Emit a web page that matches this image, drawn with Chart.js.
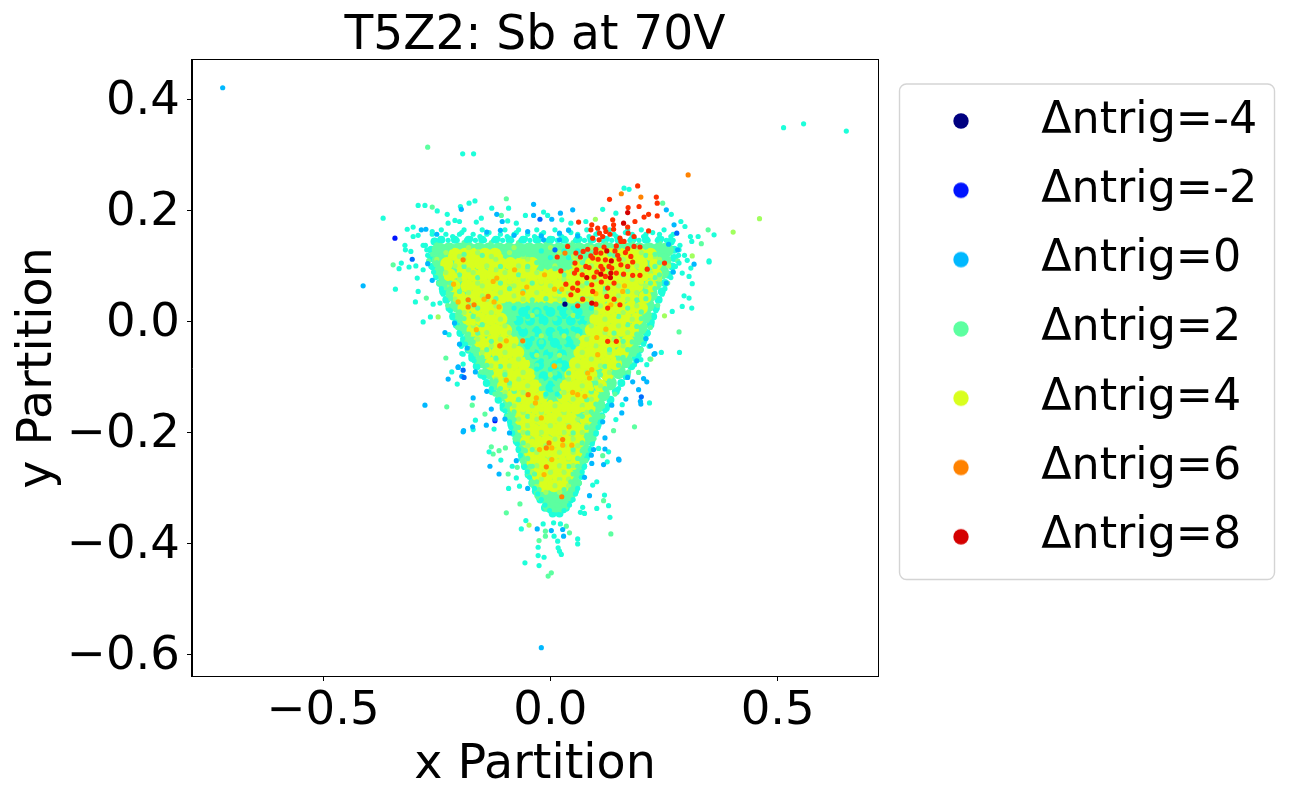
<!DOCTYPE html>
<html><head><meta charset="utf-8">
<script src="https://cdn.jsdelivr.net/npm/chart.js@4"></script>
<style>html,body{margin:0;padding:0;background:#fff}#w{width:1300px;height:800px;position:relative}</style>
</head><body><div id="w"><canvas id="c" width="1300" height="800"></canvas></div>
<script>
const chartTitle='T5Z2: Sb at 70V';
const xLabel='x Partition', yLabel='y Partition';
const xTicks=[-0.5,0,0.5];
const yTicks=[-0.6,-0.4,-0.2,0,0.2,0.4];
const legendValues=[-4,-2,0,2,4,6,8];

// Dense interior: reference has far too many overlapping dots to read one by one,
// so it is estimated as rows [y,[x...]] of broader marks.
const denseGreen=[
[.13,[-.245,-.223,-.201,-.179,-.157,-.135,-.113,-.091,-.069,-.047,-.025,-.003,.019,.041,.063,.085,.107,.129,.151,.173,.195,.217,.239,.255]],
[.11,[-.245,-.234,-.212,-.19,-.168,-.146,-.124,-.102,-.08,-.058,-.036,-.014,.008,.03,.052,.074,.096,.118,.14,.162,.184,.206,.228,.25]],
[.09,[-.24,-.22,-.198,-.176,-.154,-.132,-.11,-.088,-.066,-.044,-.022,0,.022,.044,.066,.088,.11,.132,.154,.176,.198,.22,.245]],
[.07,[-.23,-.21,-.188,-.166,-.144,-.122,-.1,-.078,-.056,-.034,-.012,.01,.032,.054,.076,.098,.12,.142,.164,.186,.208,.23]],
[.05,[-.215,-.197,-.175,-.153,-.131,-.109,-.087,-.065,-.043,-.021,.001,.023,.045,.067,.089,.111,.133,.155,.177,.199,.22]],
[.03,[-.205,-.186,-.164,-.142,-.12,-.098,-.076,-.054,-.032,-.01,.012,.034,.056,.078,.1,.122,.144,.166,.188,.213]],
[.01,[-.195,-.175,-.153,-.131,-.109,-.087,-.065,-.043,-.021,.001,.023,.045,.067,.089,.111,.133,.155,.177,.208]],
[-.01,[-.185,-.164,-.142,-.12,-.098,-.076,-.054,-.032,-.01,.012,.034,.056,.078,.1,.122,.144,.166,.198]],
[-.03,[-.175,-.153,-.131,-.109,-.087,-.065,-.043,-.021,.001,.023,.045,.067,.089,.111,.133,.155,.19]],
[-.05,[-.16,-.142,-.12,-.098,-.076,-.054,-.032,-.01,.012,.034,.056,.078,.1,.122,.144,.166,.18]],
[-.07,[-.15,-.131,-.109,-.087,-.065,-.043,-.021,.001,.023,.045,.067,.089,.111,.133,.165]],
[-.09,[-.135,-.12,-.098,-.076,-.054,-.032,-.01,.012,.034,.056,.078,.1,.122,.15]],
[-.11,[-.12,-.1,-.078,-.056,-.034,-.012,.01,.032,.054,.076,.098,.13]],
[-.13,[-.105,-.087,-.065,-.043,-.021,.001,.023,.045,.067,.089,.115]],
[-.15,[-.09,-.07,-.048,-.026,-.004,.018,.04,.062,.084,.105]],
[-.17,[-.08,-.059,-.037,-.015,.007,.029,.051,.073,.095]],
[-.19,[-.07,-.048,-.026,-.004,.018,.04,.062,.09]],
[-.21,[-.065,-.043,-.021,.001,.023,.045,.08]],
[-.23,[-.055,-.033,-.011,.011,.033,.055,.07]],
[-.25,[-.05,-.028,-.006,.016,.038,.06]],
[-.27,[-.04,-.018,.004,.026,.055]],
[-.29,[-.03,-.008,.014,.036,.05]],
[-.31,[-.02,.002,.024,.04]],
[-.33,[-.002,.012,.025]]
];
const denseYellow=[
[.122,[-.21,-.188,-.166,-.144,-.122,.11,.132,.154,.176,.198,.22]],
[.105,[-.228,-.198,-.176,-.154,-.132,-.11,-.088,-.066,-.04,.06,.09,.112,.134,.156,.178,.2,.232]],
[.085,[-.222,-.193,-.171,-.149,-.127,-.105,-.083,-.061,-.039,-.017,.005,.028,.05,.072,.094,.116,.138,.16,.182,.204,.232]],
[.065,[-.212,-.183,-.161,-.139,-.117,-.095,-.073,-.051,-.029,-.007,.015,.037,.059,.081,.103,.125,.147,.169,.191,.22]],
[.045,[-.2,-.173,-.151,-.129,-.107,-.085,-.063,-.041,-.019,.003,.025,.047,.069,.091,.113,.135,.157,.179,.208]],
[.025,[-.19,-.163,-.141,-.119,.11,.132,.154,.176,.2]],
[.005,[-.18,-.153,-.131,-.109,.1,.122,.144,.166,.19]],
[-.015,[-.17,-.143,-.121,-.099,.09,.112,.134,.156,.18]],
[-.035,[-.155,-.128,-.106,-.084,.075,.097,.119,.141,.17]],
[-.055,[-.143,-.116,-.094,-.072,.065,.087,.109,.131,.158]],
[-.075,[-.13,-.103,-.081,-.059,.055,.077,.099,.121,.143]],
[-.095,[-.115,-.091,-.069,-.047,.045,.067,.089,.125]],
[-.115,[-.103,-.078,-.056,-.034,.035,.057,.079,.11]],
[-.135,[-.088,-.063,-.041,-.019,.028,.05,.072,.095]],
[-.155,[-.075,-.053,-.031,-.009,.013,.035,.057,.085]],
[-.175,[-.065,-.043,-.021,.001,.023,.045,.078]],
[-.195,[-.058,-.036,-.014,.008,.03,.052,.07]],
[-.215,[-.052,-.03,-.008,.014,.036,.062]],
[-.235,[-.044,-.022,0,.022,.044,.056]],
[-.255,[-.038,-.016,.006,.028,.05]],
[-.275,[-.028,-.006,.016,.038]],
[-.295,[-.014,.008,.028]]
];
const denseCyan=[
[.018,[-.06,-.03,0,.03,.06]],
[.002,[-.07,-.045,-.015,.015,.045,.07]],
[-.018,[-.06,-.03,0,.03,.06]],
[-.038,[-.05,-.02,.01,.04]],
[-.058,[-.035,-.005,.025]],
[-.078,[-.025,.01,.03]],
[-.098,[-.015,.015]],
[-.118,[0]]
];
const rimCyan=[[-.255,.145],[-.262,.13],[-.262,.115],[-.258,.1],[-.25,.085],[-.243,.07],[-.236,.055],[-.229,.04],[-.222,.025],[-.214,.01],[-.206,-.005],[-.198,-.02],[-.19,-.035],[-.18,-.05],[-.172,-.065],[-.162,-.08],[-.152,-.095],[-.14,-.11],[-.128,-.125],[-.114,-.14],[-.103,-.155],[-.094,-.17],[-.086,-.185],[-.08,-.2],[-.074,-.215],[-.068,-.23],[-.062,-.245],[-.056,-.26],[-.048,-.275],[-.04,-.29],[-.032,-.305],[-.022,-.32],[-.012,-.335],[.005,-.345],[.02,-.345],
[.265,.145],[.272,.13],[.272,.115],[.268,.1],[.26,.085],[.252,.07],[.245,.055],[.238,.04],[.232,.025],[.226,.01],[.22,-.005],[.212,-.02],[.204,-.035],[.196,-.05],[.188,-.065],[.178,-.08],[.168,-.095],[.156,-.11],[.144,-.125],[.132,-.14],[.122,-.155],[.112,-.17],[.104,-.185],[.098,-.2],[.09,-.215],[.084,-.23],[.078,-.245],[.072,-.26],[.066,-.275],[.06,-.29],[.054,-.305],[.044,-.32],[.034,-.335],
[-.24,.148],[-.21,.148],[-.18,.148],[-.15,.148],[-.12,.148],[-.09,.148],[-.06,.148],[-.03,.148],[0,.148],[.03,.148],[.06,.148],[.09,.148],[.12,.148],[.15,.148],[.18,.148],[.21,.148],[.24,.148]];

// Individually readable dots and estimated speckle, per trigger value.
const speck3=[
[.125,[-.23,-.16,-.09,.02,.11,.2]],[.113,[-.25,-.19,-.12,-.05,.06,.16,.24]],[.101,[-.21,-.14,-.07,.01,.09,.19,.26]],
[.089,[-.23,-.17,-.1,-.03,.05,.13,.22]],[.077,[-.2,-.12,-.06,.03,.1,.18,.24]],[.065,[-.22,-.15,-.08,0,.07,.15,.21]],
[.053,[-.18,-.11,-.03,.04,.12,.19]],[.041,[-.21,-.14,-.06,.02,.09,.17]],[.029,[-.17,-.12,.11,.19]],[.017,[-.19,-.13,.1,.16]],
[.005,[-.16,-.11,.12,.18]],[-.007,[-.17,-.1,.09,.15]],[-.019,[-.14,-.09,.12,.17]],[-.031,[-.16,-.11,.08,.14]],
[-.043,[-.13,-.08,.1,.16]],[-.055,[-.15,-.1,.07,.13]],[-.067,[-.12,-.07,.09,.15]],[-.079,[-.13,-.09,.06,.11]],
[-.091,[-.1,-.06,.08,.13]],[-.103,[-.12,-.07,.04,.1]],[-.115,[-.09,-.05,.07,.11]],[-.127,[-.1,-.06,.03,.09]],
[-.139,[-.07,-.03,.05,.09]],[-.151,[-.08,-.04,.01,.07]],[-.163,[-.06,-.02,.03,.08]],[-.175,[-.07,-.03,.02,.06]],
[-.187,[-.05,0,.04,.08]],[-.199,[-.06,-.02,.03,.07]],[-.211,[-.04,.01,.05]],[-.223,[-.05,-.01,.03,.06]],
[-.235,[-.03,.02,.05]],[-.247,[-.05,0,.04]],[-.259,[-.03,.02,.05]],[-.271,[-.04,0,.03]],[-.283,[-.02,.02,.04]],[-.295,[-.03,.01,.04]],[-.307,[-.01,.02]],
[.118,[-.2,-.13,-.06,.05,.15,.23]],[.094,[-.18,-.12,-.05,.07,.17,.21]],[.07,[-.16,-.09,-.02,.06,.13,.2]],[.047,[-.15,-.08,.01,.08,.15]],
[.012,[-.04,.05]],[-.025,[-.02,.03,.06]],[-.06,[-.03,.02]],[-.095,[.0]],
[.134,[-.18,-.08,.0,.09,.19]]
];
const speck2=[
[.143,[-.25,-.19,-.13,-.07,-.01,.05,.12,.18,.24]],[.135,[-.22,-.16,-.1,-.04,.02,.08,.15,.21,.26]],[.122,[-.26,-.19,-.06,.04,.13,.23]],
[.107,[-.25,-.03,-.01,.02,.05,.07,.24]],[.096,[-.24,-.02,.01,.03,.25]],[.08,[-.24,-.16,.23]],[.06,[-.22,-.09,.12,.23]],
[.042,[-.22,-.12,-.01,.07,.21]],[.032,[-.09,-.07,-.04,-.02,.01,.03,.06,.08,.1]],[.018,[-.2,-.09,-.03,.04,.09,.2]],
[.006,[-.19,-.08,-.05,.01,.06,.08,.2]],[-.008,[-.19,-.06,-.02,.03,.07,.19]],[-.022,[-.18,-.08,-.04,.01,.05,.19]],
[-.036,[-.17,-.06,-.02,.03,.06,.18]],[-.05,[-.16,-.04,0,.04,.17]],[-.064,[-.15,-.05,-.01,.03,.16]],[-.078,[-.14,-.03,.02,.15]],
[-.092,[-.13,-.03,.01,.04,.14]],[-.106,[-.12,-.02,.02,.13]],[-.12,[-.11,-.02,.01,.12]],[-.134,[-.1,-.01,.02,.11]],
[-.148,[-.09,.1]],[-.162,[-.08,.09]],[-.176,[-.08,.09]],[-.19,[-.07,.08]],[-.204,[-.07,.08]],[-.218,[-.06,.07]],
[-.232,[-.055,.07]],[-.246,[-.05,.06]],[-.26,[-.045,.06]],[-.274,[-.035,.05]],[-.288,[-.03,.045]],[-.302,[-.025,.03,.045]],[-.316,[-.015,.01,.035]],[-.33,[-.005,.015,.03]],
[.12,[-.24,-.15,-.07,.03,.14,.21]],[.1,[-.19,-.11,-.05,.04,.17,.23]],[.085,[-.2,-.07,.03,.16,.24]],
[.07,[-.22,-.11,-.04,.08,.22]],[.055,[-.2,-.06,.02,.17,.21]],[.04,[-.18,-.04,.03,.19]],[.025,[-.16,.17]],
[.01,[-.17,.15]],[-.005,[-.15,.17]],[-.02,[-.16,.14]],[-.035,[-.13,.16]],[-.05,[-.14,.13]],
[-.065,[-.12,.15]],[-.08,[-.11,.12]],[-.095,[-.1,.11]],[-.11,[-.09,.1]],[-.125,[-.08,.09]],
[-.14,[-.07,.08]],[-.17,[-.05,.07]],[-.2,[-.05,.05]],
[-.23,[-.04,.05]],[-.26,[-.04,.04]],
[.11,[-.268,.28]],[.07,[-.246,.258]],[.03,[-.226,.236]],[-.01,[-.204,.22]],[-.05,[-.18,.2]],[-.09,[-.153,.172]],[-.13,[-.122,.142]],[-.17,[-.095,.115]],[-.21,[-.078,.096]],[-.25,[-.062,.078]],[-.29,[-.04,.064]]
];
const speck4=[
[.118,[-.22,-.17,-.11,.12,.18,.22]],[.095,[-.2,-.13,-.08,.08,.15,.21]],[.072,[-.18,-.09,-.02,.06,.13,.2]],[.05,[-.16,-.07,.01,.08,.16]],
[.012,[-.15,.14]],[-.025,[-.12,.1]],[-.06,[-.11,.11]],[-.1,[-.08,.09]],[-.145,[-.05,0,.06]],[-.17,[-.04,.01,.05]],
[-.2,[-.03,.02]],[-.23,[-.02,.03]],[-.26,[-.01,.03]],[-.29,[0,.02]],
[.108,[-.19,-.15,-.1,.14,.2]],[.083,[-.21,-.15,-.06,.02,.1,.17,.22]],[.06,[-.19,-.12,-.04,.04,.11,.18]],[.035,[-.19,-.15,.13,.18]],
[-.002,[-.17,-.13,.11,.16]],[-.04,[-.14,-.09,.09,.15]],[-.08,[-.12,-.08,.08,.13]],[-.12,[-.08,-.04,.06,.09]],
[-.158,[-.06,-.02,.03,.07]],[-.185,[-.04,.02,.06]],[-.215,[-.04,0,.04]],[-.245,[-.03,.01,.04]],[-.275,[-.02,.02]]
];
const speck1=[
[.158,[-.26,-.23,-.2,-.17,-.14,-.11,-.08,-.05,-.02,.02,.06,.1,.14,.18,.21,.24,.27]],
[.166,[-.24,-.19,-.15,-.1,-.07,-.03,.01,.04,.08,.13,.17,.2,.25]],
[.147,[-.255,-.245,-.225,-.205,-.185,-.165,-.145,-.125,-.105,-.085,-.065,-.045,-.025,-.005,.015,.035,.055,.075,.095,.115,.135,.155,.175,.195,.215,.235,.255,.27]],
[.15,[-.24,-.175,-.115,-.055,.005,.065,.125,.185,.245]],
[.154,[-.215,-.155,-.095,-.035,.025,.085,.145,.205,.265]],
[.161,[-.195,-.135,-.075,-.015,.045,.105,.165,.225]],
[.138,[-.275,-.28,.285]],[.13,[-.272,.283]],[.12,[-.27,.282,.295]],[.1,[-.263,.275]],[.09,[-.257,.27]],[.08,[-.252,.265]],
[.06,[-.24,.252]],[.05,[-.236,.246]],[.04,[-.23,.24]],[.02,[-.22,.232]],[.01,[-.215,.228]],[0,[-.21,.224]],
[-.02,[-.2,.215]],[-.03,[-.193,.21]],[-.04,[-.187,.205]],[-.06,[-.175,.195]],[-.07,[-.168,.188]],[-.08,[-.16,.18]],
[-.1,[-.146,.165]],[-.11,[-.138,.158]],[-.12,[-.13,.15]],[-.14,[-.113,.134]],[-.15,[-.106,.127]],[-.16,[-.1,.12]],
[-.18,[-.09,.11]],[-.19,[-.087,.105]],[-.2,[-.083,.1]],[-.22,[-.073,.092]],[-.23,[-.07,.088]],[-.24,[-.066,.083]],
[-.26,[-.056,.075]],[-.27,[-.051,.07]],[-.28,[-.046,.068]],[-.3,[-.035,.06]],[-.31,[-.028,.055]],[-.32,[-.02,.05]],[-.33,[-.012,.042]],[-.34,[-.002,.03]],
[.01,[-.05,-.02,.03,.06]],[-.03,[-.04,0,.04]],[-.07,[-.02,.02]],[-.11,[0]],[.128,[-.02,.03,.06]],[.116,[0,.04]],
[.025,[-.08,-.05,-.01,.02,.05,.09]],[-.012,[-.07,-.03,.02,.05]],[-.045,[-.05,-.02,.02,.05]],[-.085,[-.03,0,.03]],[-.13,[-.01,.015]]
];
const trig1=[[-.291,.21],[-.276,.21],[-.249,.2],[-.198,.208],[-.179,.214],[-.166,.218],[-.129,.205],[-.092,.205],[-.368,.187],[-.227,.194],[-.225,.178],[-.21,.183],[-.2,.181],[-.163,.18],[-.152,.187],[-.094,.182],[-.075,.178],[-.055,.192],[-.015,.198],[-.006,.192],[.025,.184],[.045,.178],[.078,.181],[.115,.203],[.144,.196],[.162,.241],[.173,.239],[.266,.194],[.287,.181],[.296,.172],[.308,.154],[.325,.154],[.36,.157],[.311,.145],[.349,.11],[.301,.111],[.283,.106],[.309,.097],[.29,.088],[.305,.082],[.312,.069],[.294,.047],[.305,.043],[.29,.028],[.311,.025],[.268,.019],[.244,-.055],[.284,-.055],[.217,-.044],[-.315,.167],[-.302,.171],[-.26,.163],[-.302,.154],[-.291,.156],[-.32,.138],[-.319,.13],[-.307,.127],[-.328,.106],[-.333,.096],[-.311,.099],[-.296,.101],[-.28,.094],[-.293,.079],[-.341,.059],[-.291,.055],[-.297,.036],[-.258,.032],[-.243,.034],[-.264,.009],[-.28,0],[-.223,-.023],[-.196,-.044],[-.192,-.058],[.513,.35],[.557,.357],[.651,.344],[-.193,.303],[-.169,.303],[.349,.108],[-.217,-.09],[-.205,-.112],[-.192,-.076],[-.195,-.057],[-.165,-.177],[-.17,-.194],[-.124,-.193],[-.135,-.234],[-.109,-.249],[-.084,-.26],[-.075,-.281],[-.092,-.3],[-.068,-.296],[-.054,-.358],[-.064,-.373],[-.027,-.406],[-.027,-.421],[-.014,-.424],[-.056,-.434],[-.025,-.439],[.017,-.407],[.02,-.413],[.024,-.419],[.06,-.391],[.06,-.4],[.008,-.386],[.016,-.395],[-.016,-.364],[.007,-.362],[.022,-.364],[.131,-.352],[.102,-.336],[.128,-.331],[.119,-.312],[.102,-.288],[.093,-.294],[.071,-.334],[.066,-.343],[.075,-.345],[.125,-.252],[.128,-.234],[.106,-.228],[.144,-.176],[.158,-.149],[.218,-.146],[.199,-.068],[.185,-.077],[.212,-.077]];
const trig0=[[-.721,.422],[-.412,.065],[-.02,-.587],[-.276,-.15],[-.191,-.196],[-.171,-.189],[.151,-.249],[-.196,.203],[-.037,.212],[-.118,.194],[-.106,.181],[-.037,.192],[.003,.185],[.022,.196],[.049,.202],[.255,.202],[.272,.175],[.316,.104],[.228,-.058],[-.284,.166],[-.274,.167],[-.232,-.019],[-.211,-.002],[-.183,-.047],[-.203,-.082],[-.225,-.103],[-.203,-.081],[-.195,-.098],[-.192,-.198],[-.17,-.137],[-.141,-.186],[-.13,-.157],[-.133,-.26],[-.113,-.274],[-.029,-.373],[.029,-.386],[.002,-.376],[.027,-.374],[.086,-.313],[.15,-.247],[.117,-.257],[.091,-.255],[.12,-.229],[.12,-.209],[.095,-.23],[.157,-.164],[.198,-.143],[.199,-.148],[.166,-.139],[.194,-.122],[.181,-.108],[.212,-.108],[.205,-.102],[.23,-.057],[.22,-.043],
[-.25,.158],[-.14,.162],[-.11,.165],[-.08,.156],[-.05,.163],[-.02,.155],[.02,.16],[.04,.165],[.26,.14],[.28,.13],[.27,.09],[.255,.07],[-.27,.105],[-.26,.075],[.21,-.03],[.19,-.07],[.17,-.1],[.135,-.15],[.115,-.18],[.09,-.24],[.075,-.28],[-.14,-.125],[-.1,-.175],[-.09,-.2],[-.075,-.25],[-.05,-.3],[-.165,-.09],[-.2,-.04],[-.015,.148],[.02,.148],[.06,.155]];
const trig2=[[-.27,.315],[-.26,.207],[-.097,.222],[-.108,.192],[.247,.214],[.347,.166],[.332,.141],[-.346,.103],[-.273,.043],[-.23,-.065],[.283,-.018],[-.228,-.153],[-.172,-.15],[-.144,-.166],[-.13,-.225],[-.126,-.238],[-.113,-.232],[-.099,-.227],[-.093,-.274],[-.073,-.262],[-.067,-.328],[-.097,-.344],[-.025,-.394],[.002,-.452],[-.005,-.458],[-.011,-.377],[-.011,-.386],[.042,-.38],[.035,-.368],[.133,-.382],[.117,-.322],[.115,-.241],[.139,-.196],[.185,-.189],[.194,-.091],[.219,-.067]];
const trig3=[[.312,.119],[.402,.162],[.46,.186],[.099,.185],[-.247,.009],[.251,.011],[-.047,-.366],[.221,-.067]];
const trigM1=[[-.023,.185],[-.304,.113],[-.192,-.087],[-.122,-.175],[.278,.16],[.01,.13],[.2,-.135],[-.19,-.1]];
const trigM2=[[-.342,.151],[-.122,-.178]];
const trigM4=[[.032,.032]];
const trig5=[[-.061,.052],[-.079,.094],[-.013,.085],[-.118,.079],[-.126,.073],[-.213,.068],[-.146,.041],[-.203,.036],[-.124,.036],[-.113,.027],[-.052,.063],[.009,.059],[.025,.059],[.1,.051],[.159,.055],[.163,.065],[.133,.031],[.122,-.013],[.102,-.028],[-.097,-.034],[-.163,-.014],[-.112,-.043],[.104,-.059],[.009,-.08],[.008,-.079],[-.097,-.105],[-.031,-.137],[-.033,-.146],[.049,-.127],[.06,-.131],[.076,-.134],[.086,-.101],[.082,-.092],[.091,-.086],[-.02,-.173],[.041,-.189],[.027,-.222],[.047,-.222],[-.024,-.23],[.003,-.227],[.003,-.248],[-.014,-.275]];
const trig6=[[.303,.265],[.156,.231],[.199,.225],[.032,.124],[-.192,.112],[-.137,.046],[-.181,.04],[-.168,.031],[-.181,.027],[-.061,-.034],[-.111,-.043],[-.049,-.131],[-.003,-.218],[.027,-.212],[-.009,-.227],[-.009,-.261],[.025,-.315]];
const trig7=[[.192,.245],[.13,.221],[.233,.225],[.235,.214],[.171,.206],[.195,.208],[.235,.191],[.216,.194],[.206,.189],[.186,.181],[.137,.184],[.139,.175],[.139,.167],[.122,.163],[.104,.169],[.089,.166],[.091,.175],[.062,.18],[.17,.171],[.171,.16],[.216,.164],[.184,.154],[.153,.151],[.115,.154],[.093,.151],[.107,.148],[.155,.145],[.162,.145],[.145,.137],[.184,.136],[.17,.132],[.197,.135],[.1,.131],[.118,.135],[.082,.131],[.072,.127],[.056,.124],[.089,.119],[.111,.124],[.038,.136],[.015,.117],[.066,.117],[.093,.115],[.105,.113],[.121,.112],[.151,.113],[.181,.108],[.054,.106],[.078,.1],[.111,.1],[.129,.1],[.155,.103],[.17,.1],[.213,.095],[.251,.106],[.058,.094],[.023,.092],[.145,.088],[.161,.086],[.181,.084],[.197,.084],[.096,.081],[.053,.088],[.121,.082],[.034,.068],[.091,.067],[.06,.07],[.049,.061],[.126,.061],[.06,.057],[.093,.055],[.045,.049],[.124,.046],[.071,.041],[.14,.041],[.1,.032],[.06,.029],[.126,.025],[.153,.031],[.126,-.035],[.145,-.035],
[.108,.16],[.12,.17],[.131,.158],[.142,.128],[.148,.12],[.1,.125],[.115,.095],[.135,.097],[.102,.09],[.085,.098],[.07,.085],[.165,.125],[.177,.118],[.14,.07],[.112,.072]];
const trig8=[[.17,.197],[.161,.178],[.124,.128],[.134,.11],[.08,.08],[.111,.086],[.132,.08],[.133,.088],[.091,.034]];

const colors={'-4':'#000080','-2':'#0014ff','-1':'#006cff','0':'#00b8ff','1':'#1dffda','2':'#5cffa0','3':'#a1ff5e','4':'#d9ff1e','5':'#ffb900','6':'#ff8200','7':'#ff3000','8':'#d40000'};
const rows=r=>r.flatMap(([y,xs])=>xs.map(x=>({x,y})));
const pairs=p=>p.map(([x,y])=>({x,y}));
const set=(v,data,order,radius,suffix)=>({label:'Δntrig='+v+(suffix||''),trig:v,data,order,pointRadius:radius,pointHoverRadius:radius,pointBorderWidth:0,pointBackgroundColor:colors[v],showLine:false});
const R=2.6;
const datasets=[
 set(-4,pairs(trigM4),1,R),
 set(-2,pairs(trigM2),8,R),
 set(0,pairs(trig0),9,R),
 set(2,pairs(trig2).concat(rows(speck2)),12,R),
 set(4,rows(speck4),10,R),
 set(6,pairs(trig6),3,R),
 set(8,pairs(trig8),2,R),
 set(-1,pairs(trigM1),7,R),
 set(1,pairs(trig1).concat(rows(speck1)),11,R),
 set(3,pairs(trig3).concat(rows(speck3)),13,R),
 set(5,pairs(trig5),5,R),
 set(7,pairs(trig7),4,R),
 set(4,rows(denseYellow),20,6.6,' dense'),
 set(1,rows(denseCyan),19,5,' dense'),
 set(2,rows(denseGreen),21,7.4,' dense'),
 set(1,pairs(rimCyan),22,4,' rim')
];
function legendDot(color){
 const c=document.createElement('canvas');c.width=c.height=18;
 const g=c.getContext('2d');g.fillStyle=color;g.beginPath();g.arc(9,9,7.7,0,Math.PI*2);g.fill();return c;
}
const frame={id:'frame',
 afterLayout(ch){const l=ch.legend;l.left=878.1;l.right=1300;l.top=73.9;l.bottom=800;},
 afterDatasetsDraw(ch){const a=ch.chartArea,g=ch.ctx;g.save();g.strokeStyle='#000';g.lineWidth=1;g.strokeRect(Math.round(a.left)-.5,Math.round(a.top)-.5,Math.round(a.width)+1,Math.round(a.height)+1);g.restore();},
 beforeDraw(ch){const g=ch.ctx;g.save();g.fillStyle='#fff';g.fillRect(0,0,1300,800);g.strokeStyle='rgba(204,204,204,.85)';g.lineWidth=1.4;g.beginPath();g.roundRect(899.5,84,375,495.5,7);g.stroke();g.restore();}
};
const tickFont={family:'DejaVu Sans',size:46.6};
const labelFont={family:'DejaVu Sans',size:47.6};
const fmt=v=>(v<0?'\u2212':'')+Math.abs(v).toFixed(1);
new Chart(document.getElementById('c'),{
 type:'scatter',
 data:{datasets},
 plugins:[frame],
 options:{
  responsive:false,animation:false,devicePixelRatio:1,
  layout:{padding:{left:0,right:422,top:0,bottom:0}},
  plugins:{
   title:{display:true,text:chartTitle,fullSize:false,color:'#000',font:{family:'DejaVu Sans',size:47.1,weight:'normal',lineHeight:1},padding:{top:12.9,bottom:0}},
   tooltip:{enabled:false},
   legend:{position:'chartArea',align:'start',labels:{
     color:'#000',font:{family:'DejaVu Sans',size:44.4},padding:24.9,usePointStyle:true,pointStyleWidth:116,
     generateLabels:ch=>legendValues.map(v=>({text:'Δntrig='+v,pointStyle:legendDot(colors[v]),fillStyle:colors[v],strokeStyle:colors[v],lineWidth:0,datasetIndex:0,hidden:false}))
   }}
  },
  scales:{
   x:{type:'linear',min:-.7885,max:.7207,
     afterBuildTicks:s=>{s.ticks=xTicks.map(value=>({value}));},
     afterFit:s=>{s.height=124;},
     grid:{drawOnChartArea:false,drawTicks:true,tickLength:5,color:'#000'},border:{display:true,color:'#000'},
     ticks:{font:tickFont,color:'#000',padding:3,maxRotation:0,autoSkip:false,callback:fmt},
     title:{display:true,text:xLabel,color:'#000',font:labelFont,padding:{top:0,bottom:6}}},
   y:{type:'linear',min:-.638,max:.472,
     afterBuildTicks:s=>{s.ticks=yTicks.map(value=>({value}));},
     afterFit:s=>{s.width=192;},
     grid:{drawOnChartArea:false,drawTicks:true,tickLength:5,color:'#000'},border:{display:true,color:'#000'},
     ticks:{font:tickFont,color:'#000',padding:7,labelOffset:2,autoSkip:false,callback:fmt},
     title:{display:true,text:yLabel,color:'#000',font:labelFont,padding:{top:10,bottom:0}}}
  }
 }
});
</script></body></html>
